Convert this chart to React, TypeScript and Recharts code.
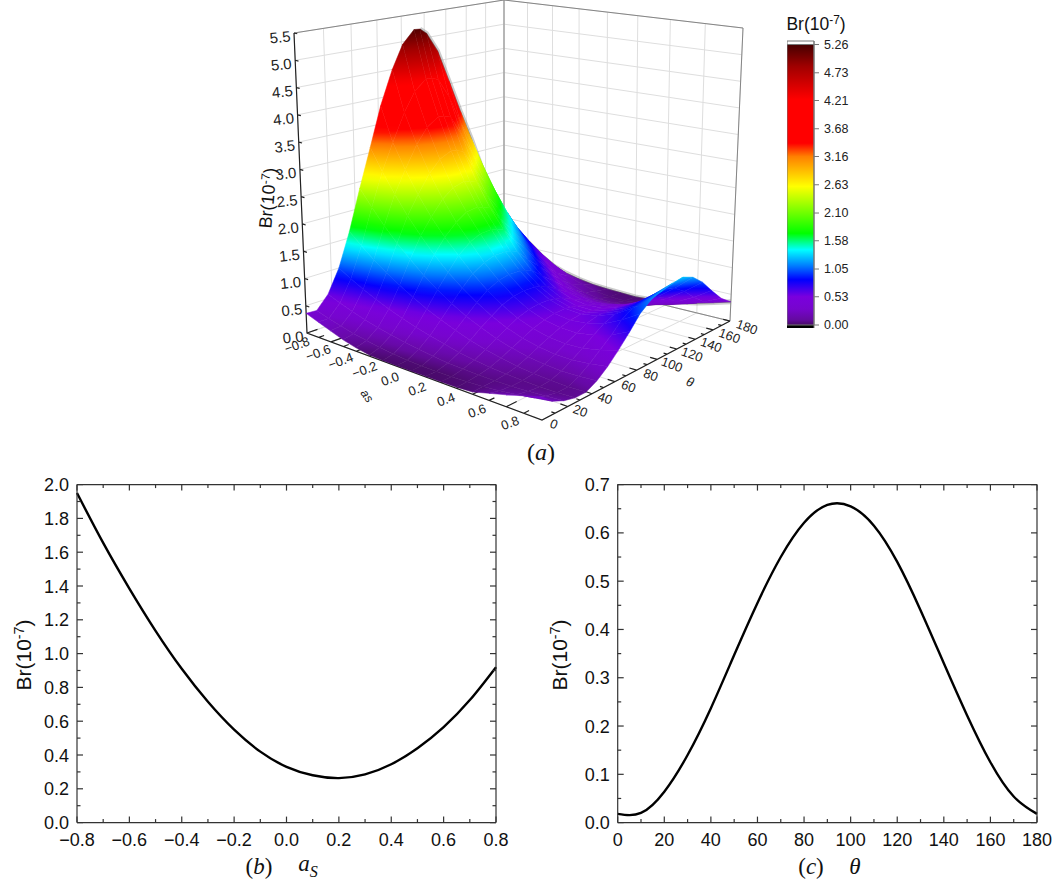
import { BarChart, Bar, ComposedChart, Line, LineChart, ReferenceArea, XAxis, YAxis } from 'recharts'

// surface grid: columns are a_S, rows are theta (in units of 1e-7)
const aColumns = [-0.8, -0.7, -0.6, -0.5, -0.4, -0.3, -0.2, -0.1, 0, 0.1, 0.2, 0.3, 0.4, 0.5, 0.6, 0.7, 0.8]
const thetaRows = [0, 8, 17, 26, 35, 44, 53, 62, 72, 81, 91, 96, 102, 112, 123, 134, 145, 156, 168, 180]
const row00 = [0.36, 0.28, 0.2, 0.12, 0.06, 0.02, 0.01, 0.01, 0.01, 0.01, 0.015, 0.02, 0.04, 0.12, 0.2, 0.29, 0.38]
const row01 = [0.35, 0.28, 0.22, 0.16, 0.12, 0.08, 0.05, 0.03, 0.02, 0.015, 0.02, 0.03, 0.05, 0.08, 0.12, 0.17, 0.22]
const row02 = [0.58, 0.49, 0.41, 0.34, 0.28, 0.225, 0.18, 0.14, 0.105, 0.08, 0.065, 0.057, 0.056, 0.063, 0.077, 0.1, 0.13]
const row03 = [1.0, 0.87, 0.75, 0.64, 0.54, 0.45, 0.37, 0.3, 0.24, 0.18, 0.14, 0.106, 0.082, 0.067, 0.062, 0.066, 0.08]
const row04 = [1.62, 1.42, 1.23, 1.06, 0.9, 0.76, 0.625, 0.51, 0.405, 0.315, 0.24, 0.18, 0.13, 0.1, 0.08, 0.07, 0.08]
const row05 = [2.38, 2.08, 1.8, 1.54, 1.31, 1.09, 0.9, 0.73, 0.58, 0.46, 0.35, 0.27, 0.21, 0.17, 0.15, 0.155, 0.18]
const row06 = [3.1, 2.7, 2.33, 1.99, 1.68, 1.4, 1.15, 0.935, 0.75, 0.59, 0.46, 0.36, 0.3, 0.26, 0.25, 0.28, 0.33]
const row07 = [3.85, 3.2, 2.74, 2.33, 1.97, 1.66, 1.39, 1.125, 0.9, 0.71, 0.56, 0.455, 0.385, 0.36, 0.37, 0.43, 0.52]
const row08 = [4.5, 3.72, 3.16, 2.67, 2.24, 1.87, 1.57, 1.26, 1.0, 0.79, 0.63, 0.52, 0.47, 0.46, 0.51, 0.6, 0.75]
const row09 = [4.95, 4.08, 3.44, 2.88, 2.4, 2.0, 1.66, 1.32, 1.04, 0.82, 0.66, 0.56, 0.52, 0.55, 0.63, 0.78, 0.98]
const row10 = [5.2, 4.28, 3.59, 2.99, 2.46, 2.03, 1.67, 1.32, 1.03, 0.81, 0.65, 0.57, 0.55, 0.6, 0.71, 0.9, 1.13]
const row11 = [5.19, 4.27, 3.57, 2.96, 2.43, 1.99, 1.64, 1.28, 1.0, 0.78, 0.63, 0.55, 0.54, 0.6, 0.72, 0.92, 1.17]
const row12 = [5.08, 4.22, 3.53, 2.92, 2.4, 1.96, 1.6, 1.24, 0.96, 0.74, 0.6, 0.53, 0.525, 0.59, 0.73, 0.94, 1.2]
const row13 = [4.7, 3.83, 3.14, 2.54, 2.06, 1.67, 1.34, 1.03, 0.785, 0.61, 0.5, 0.46, 0.48, 0.575, 0.73, 0.97, 1.25]
const row14 = [4.05, 3.26, 2.68, 2.18, 1.75, 1.39, 1.09, 0.82, 0.61, 0.47, 0.39, 0.38, 0.42, 0.54, 0.71, 0.97, 1.27]
const row15 = [3.4, 2.82, 2.3, 1.845, 1.44, 1.1, 0.82, 0.6, 0.43, 0.33, 0.28, 0.295, 0.365, 0.495, 0.67, 0.9, 1.18]
const row16 = [2.8, 2.3, 1.85, 1.46, 1.11, 0.825, 0.59, 0.405, 0.27, 0.195, 0.17, 0.2, 0.28, 0.4, 0.55, 0.76, 1.0]
const row17 = [2.15, 1.75, 1.39, 1.07, 0.8, 0.57, 0.385, 0.24, 0.145, 0.09, 0.08, 0.11, 0.18, 0.28, 0.4, 0.56, 0.76]
const row18 = [1.55, 1.25, 0.99, 0.755, 0.555, 0.39, 0.25, 0.15, 0.08, 0.04, 0.035, 0.06, 0.11, 0.18, 0.27, 0.38, 0.52]
const row19 = [1.05, 0.78, 0.55, 0.38, 0.25, 0.16, 0.1, 0.06, 0.04, 0.03, 0.02, 0.04, 0.08, 0.13, 0.19, 0.27, 0.36]
const surfaceRows = [row00, row01, row02, row03, row04, row05, row06, row07, row08, row09, row10, row11, row12, row13, row14, row15, row16, row17, row18, row19]

const aTicks = [-0.8, -0.6, -0.4, -0.2, 0, 0.2, 0.4, 0.6, 0.8]
const thetaTicks = [0, 20, 40, 60, 80, 100, 120, 140, 160, 180]
const zTicks = [0, 0.5, 1, 1.5, 2, 2.5, 3, 3.5, 4, 4.5, 5, 5.5]
const barTicks = [0, 0.53, 1.05, 1.58, 2.1, 2.63, 3.16, 3.68, 4.21, 4.73, 5.26]

// colour ramp of the bar: [value, r, g, b]
const ramp = [
  [0, 70, 10, 100], [0.1, 100, 10, 160], [0.3, 118, 5, 205], [0.53, 122, 0, 222], [0.85, 0, 0, 255], [1.1, 0, 120, 255], [1.41, 0, 255, 255],
  [1.72, 0, 255, 0], [2.03, 90, 255, 0], [2.6, 255, 255, 0], [3.16, 255, 128, 0], [3.41, 255, 0, 0],
  [4.23, 255, 0, 0], [4.85, 160, 0, 0], [5.26, 70, 0, 0],
]

// panel b, panel c
const bA = [-0.8, -0.7, -0.6, -0.5, -0.4, -0.3, -0.2, -0.1, 0, 0.1, 0.2, 0.3, 0.4, 0.5, 0.6, 0.7, 0.8]
const bBr = [1.95, 1.655, 1.385, 1.135, 0.91, 0.715, 0.55, 0.42, 0.33, 0.28, 0.263, 0.285, 0.345, 0.44, 0.565, 0.725, 0.92]
const cTheta = [0, 10, 20, 30, 40, 50, 60, 70, 80, 90, 100, 110, 120, 130, 140, 150, 160, 170, 180]
const cBr = [0.018, 0.02, 0.064, 0.14, 0.237, 0.347, 0.455, 0.55, 0.621, 0.658, 0.655, 0.615, 0.54, 0.44, 0.33, 0.222, 0.125, 0.054, 0.018]
const bXTicks = [-0.8, -0.7, -0.6, -0.5, -0.4, -0.3, -0.2, -0.1, 0, 0.1, 0.2, 0.3, 0.4, 0.5, 0.6, 0.7, 0.8]
const bYTicks = [0, 0.1, 0.2, 0.3, 0.4, 0.5, 0.6, 0.7, 0.8, 0.9, 1, 1.1, 1.2, 1.3, 1.4, 1.5, 1.6, 1.7, 1.8, 1.9, 2]
const bXMajor = [-0.8, -0.6, -0.4, -0.2, 0, 0.2, 0.4, 0.6, 0.8]
const bYMajor = [0, 0.2, 0.4, 0.6, 0.8, 1, 1.2, 1.4, 1.6, 1.8, 2]
const cXTicks = [0, 10, 20, 30, 40, 50, 60, 70, 80, 90, 100, 110, 120, 130, 140, 150, 160, 170, 180]
const cYTicks = [0, 0.05, 0.1, 0.15, 0.2, 0.25, 0.3, 0.35, 0.4, 0.45, 0.5, 0.55, 0.6, 0.65, 0.7]
const cXMajor = [0, 20, 40, 60, 80, 100, 120, 140, 160, 180]
const cYMajor = [0, 0.1, 0.2, 0.3, 0.4, 0.5, 0.6, 0.7]

const SANS = '"Liberation Sans", Arial, sans-serif'
const SERIF = '"Liberation Serif", serif'

type P = [number, number]

// box corners on the page: floor and top, order a=-.8/t=0, a=.8/t=0, a=.8/t=180, a=-.8/t=180
const floorBox: P[] = [[307, 333], [542, 420], [730, 321], [504, 266]]
const topBox: P[] = [[294, 33], [544, 88], [743, 28], [504, 0]]

function makeHomography(q: P[]) {
  const [A, B, C, D] = q
  const sx = A[0] - B[0] + C[0] - D[0]
  const sy = A[1] - B[1] + C[1] - D[1]
  const d1x = B[0] - C[0], d1y = B[1] - C[1], d2x = D[0] - C[0], d2y = D[1] - C[1]
  const det = d1x * d2y - d1y * d2x
  const g = (sx * d2y - sy * d2x) / det
  const h = (d1x * sy - d1y * sx) / det
  return (u: number, v: number): P => {
    const w = g * u + h * v + 1
    return [
      ((B[0] - A[0] + g * B[0]) * u + (D[0] - A[0] + h * D[0]) * v + A[0]) / w,
      ((B[1] - A[1] + g * B[1]) * u + (D[1] - A[1] + h * D[1]) * v + A[1]) / w,
    ]
  }
}
const floorAt = makeHomography(floorBox)
const topAt = makeHomography(topBox)

function project(a: number, theta: number, z: number): P {
  const u = (a + 0.8) / 1.6
  const v = theta / 180
  const f = floorAt(u, v)
  const t = topAt(u, v)
  const k = z / 5.5
  return [f[0] + (t[0] - f[0]) * k, f[1] + (t[1] - f[1]) * k]
}

function colorAt(z: number) {
  if (z <= ramp[0][0]) return `rgb(${ramp[0][1]},${ramp[0][2]},${ramp[0][3]})`
  for (let i = 1; i < ramp.length; i++) {
    if (z <= ramp[i][0]) {
      const a = ramp[i - 1]
      const b = ramp[i]
      const k = (z - a[0]) / (b[0] - a[0])
      return `rgb(${Math.round(a[1] + (b[1] - a[1]) * k)},${Math.round(a[2] + (b[2] - a[2]) * k)},${Math.round(a[3] + (b[3] - a[3]) * k)})`
    }
  }
  const l = ramp[ramp.length - 1]
  return `rgb(${l[1]},${l[2]},${l[3]})`
}

// four corners per quad, back to front, so the dots paint in the right order
const quadPoints: { x: number; y: number; z: number }[] = []
for (let r = thetaRows.length - 2; r >= 0; r--) {
  for (let c = 0; c < aColumns.length - 1; c++) {
    const corners: [number, number][] = [[r, c], [r, c + 1], [r + 1, c + 1], [r + 1, c]]
    corners.forEach(([i, j]) => {
      const p = project(aColumns[j], thetaRows[i], surfaceRows[i][j])
      quadPoints.push({ x: p[0], y: p[1], z: surfaceRows[i][j] })
    })
  }
}

function renderQuad(props: any) {
  const { index, points } = props
  if (index % 4 !== 0) return <g key={index} />
  const pts = points.slice(index, index + 4)
  const zs = quadPoints.slice(index, index + 4).map((q) => q.z)
  const poly = pts.map((p: any) => `${p.x},${p.y}`).join(' ')
  const lo = Math.min(...zs)
  const hi = Math.max(...zs)
  const ax = pts[2].x - pts[0].x, ay = pts[2].y - pts[0].y, bx = pts[3].x - pts[1].x, by = pts[3].y - pts[1].y
  const dz1 = zs[2] - zs[0], dz2 = zs[3] - zs[1]
  const det = ax * by - ay * bx
  if (Math.abs(det) < 0.5 || hi - lo < 0.01) {
    const flat = colorAt((lo + hi) / 2)
    return <polygon key={index} points={poly} fill={flat} stroke={flat} strokeWidth={0.5} />
  }
  const gx = (dz1 * by - dz2 * ay) / det
  const gy = (ax * dz2 - bx * dz1) / det
  const g2 = gx * gx + gy * gy
  const cx = (pts[0].x + pts[1].x + pts[2].x + pts[3].x) / 4
  const cy = (pts[0].y + pts[1].y + pts[2].y + pts[3].y) / 4
  const zc = (zs[0] + zs[1] + zs[2] + zs[3]) / 4
  const n = Math.max(2, Math.ceil((hi - lo) / 0.1) + 1)
  const stops = []
  for (let i = 0; i < n; i++) {
    const k = i / (n - 1)
    stops.push(<stop key={i} offset={k} stopColor={colorAt(lo + (hi - lo) * k)} />)
  }
  const id = `q${index}`
  return (
    <g key={index}>
      <defs>
        <linearGradient
          id={id}
          gradientUnits="userSpaceOnUse"
          x1={cx + (gx * (lo - zc)) / g2}
          y1={cy + (gy * (lo - zc)) / g2}
          x2={cx + (gx * (hi - zc)) / g2}
          y2={cy + (gy * (hi - zc)) / g2}
        >
          {stops}
        </linearGradient>
      </defs>
      <polygon points={poly} fill={`url(#${id})`} stroke={`url(#${id})`} strokeWidth={0.5} />
    </g>
  )
}

// polylines with gaps between them
function segments(list: P[][]) {
  const out: { x: number; y: number | null }[] = []
  list.forEach((seg) => {
    seg.forEach((p) => out.push({ x: p[0], y: p[1] }))
    out.push({ x: seg[seg.length - 1][0], y: null })
  })
  return out
}

const lightGrid: P[][] = []
thetaTicks.forEach((t) => {
  lightGrid.push([project(-0.8, t, 0), project(-0.8, t, 5.5)])
  lightGrid.push([project(-0.8, t, 0), project(0.8, t, 0)])
})
aTicks.forEach((a) => {
  lightGrid.push([project(a, 180, 0), project(a, 180, 5.5)])
  lightGrid.push([project(a, 0, 0), project(a, 180, 0)])
})
zTicks.forEach((z) => {
  lightGrid.push([project(-0.8, 0, z), project(-0.8, 180, z), project(0.8, 180, z)])
})

const greyFrame: P[][] = [
  [project(-0.8, 0, 5.5), project(-0.8, 180, 5.5), project(0.8, 180, 5.5), project(0.8, 180, 0), project(-0.8, 180, 0)],
  [project(-0.8, 180, 0), project(-0.8, 180, 5.5)],
]

const blackAxes: P[][] = [
  [project(-0.8, 0, 5.5), project(-0.8, 0, 0), project(0.8, 0, 0), project(0.8, 180, 0)],
]
aTicks.forEach((a) => blackAxes.push([project(a, 0, 0), project(a, 8, 0)]))
for (let i = 0; i < aTicks.length - 1; i++) {
  const mid = (aTicks[i] + aTicks[i + 1]) / 2
  blackAxes.push([project(mid, 0, 0), project(mid, 4, 0)])
}
thetaTicks.forEach((t) => blackAxes.push([project(0.8, t, 0), project(0.76, t, 0)]))
for (let i = 0; i < thetaTicks.length - 1; i++) {
  const mid = (thetaTicks[i] + thetaTicks[i + 1]) / 2
  blackAxes.push([project(0.8, mid, 0), project(0.78, mid, 0)])
}
zTicks.forEach((z) => blackAxes.push([project(-0.8, 0, z), project(-0.77, 0, z)]))

// mesh lines that pile up grey where the surface is seen edge on
const greyEdge: P[][] = [
  thetaRows.map((t, i) => project(-0.8, t, surfaceRows[i][0])).slice(11),
  aColumns.map((a, j) => project(a, 180, row19[j])),
]
const greyFan: P[][] = []
for (let r = 14; r < thetaRows.length; r++) {
  greyFan.push(aColumns.slice(3, 14).map((a, j) => project(a, thetaRows[r], surfaceRows[r][j + 3])))
}
for (let c = 9; c < 15; c++) {
  greyFan.push(thetaRows.slice(11).map((t, i) => project(aColumns[c], t, surfaceRows[i + 11][c])))
}

type Lab = { x: number; y: number; text: string; rot: number; size: number; style?: string }
const labels: Lab[] = []
aTicks.forEach((a) => {
  const p = project(a, 0, 0)
  const k = (a + 0.8) / 1.6
  labels.push({
    x: p[0] - 10 - 22 * k,
    y: p[1] + 12 - 9 * k,
    text: a === 0 ? '0.0' : a < 0 ? `\u2212${Math.abs(a).toFixed(1)}` : a.toFixed(1),
    rot: -20,
    size: 13,
  })
})
thetaTicks.forEach((t) => {
  const p = project(0.8, t, 0)
  labels.push({ x: p[0] + 12 + (5 * t) / 180, y: p[1] + 4 + (2 * t) / 180, text: String(t), rot: 20, size: 13 })
})
zTicks.forEach((z) => {
  const p = project(-0.8, 0, z)
  labels.push({ x: p[0] - 14, y: p[1] + 4, text: z.toFixed(1), rot: -6, size: 15 })
})
labels.push({ x: 367, y: 396, text: 'as', rot: 55, size: 12, style: 'italic' })
labels.push({ x: 690, y: 382, text: '\u03b8', rot: 20, size: 13, style: 'italic' })

function renderLabel(props: any) {
  const { cx, cy, index } = props
  const l = labels[index]
  return (
    <text
      key={index}
      x={cx}
      y={cy}
      textAnchor="middle"
      dominantBaseline="central"
      fontFamily={SANS}
      fontSize={l.size}
      fontStyle={l.style}
      fill="#222"
      transform={`rotate(${l.rot} ${cx} ${cy})`}
    >
      {l.text}
    </text>
  )
}

const noDot = false

function Note({ x, y, size, font = SANS, rotate = 0, children }: any) {
  return (
    <div
      style={{
        position: 'absolute',
        left: x,
        top: y,
        fontSize: size,
        fontFamily: font,
        lineHeight: 1,
        whiteSpace: 'nowrap',
        color: '#111',
        transform: `translate(-50%, -50%) rotate(${rotate}deg)`,
      }}
    >
      {children}
    </div>
  )
}

const Sup = () => (
  <span style={{ fontSize: '0.68em', position: 'relative', top: '-0.5em' }}>-7</span>
)

const fmtB = (v: number) => (v < 0 ? `\u2212${Math.abs(v).toFixed(1)}` : v.toFixed(1))
const AXIS = '#333'

function xTick(major: number[], fmt: (v: number) => string, dir: number, withText: boolean) {
  return (props: any) => {
    const { x, y, payload } = props
    const isMajor = major.includes(payload.value)
    return (
      <g>
        <line x1={x} x2={x} y1={y} y2={y + dir * (isMajor ? 6 : 3.5)} stroke={AXIS} strokeWidth={1.2} />
        {withText && isMajor && (
          <text x={x} y={y + 23} textAnchor="middle" fontFamily={SANS} fontSize={18} fill="#111">
            {fmt(payload.value)}
          </text>
        )}
      </g>
    )
  }
}

function yTick(major: number[], dir: number, withText: boolean) {
  return (props: any) => {
    const { x, y, payload } = props
    const isMajor = major.includes(payload.value)
    return (
      <g>
        <line x1={x} x2={x + dir * (isMajor ? 6 : 3.5)} y1={y} y2={y} stroke={AXIS} strokeWidth={1.2} />
        {withText && isMajor && (
          <text x={x - 8} y={y + 6.5} textAnchor="end" fontFamily={SANS} fontSize={18} fill="#111">
            {payload.value.toFixed(1)}
          </text>
        )}
      </g>
    )
  }
}

function Panel({ left, plotLeft, plotRight, xs, ys, xDomain, yDomain, xTicks, yTicks, xMajor, yMajor, fmt }: any) {
  const data = xs.map((x: number, i: number) => ({ x, y: ys[i] }))
  const width = plotRight - left + 30
  const axisLine = { stroke: AXIS, strokeWidth: 1.2 }
  const common = { tickSize: 0, tickMargin: 0, tickLine: false, interval: 0 as const, axisLine, type: 'number' as const, allowDuplicatedCategory: false }
  return (
    <div style={{ position: 'absolute', left, top: 470 }}>
      <LineChart
        width={width}
        height={414}
        data={data}
        margin={{ left: plotLeft - left - 1, right: 29, top: 13.6, bottom: 60.4 }}
      >
        <XAxis {...common} dataKey="x" domain={xDomain} ticks={xTicks} height={1} tick={xTick(xMajor, fmt, -1, true)} />
        <XAxis {...common} xAxisId="top" dataKey="x" orientation="top" domain={xDomain} ticks={xTicks} height={1} tick={xTick(xMajor, fmt, 1, false)} />
        <YAxis {...common} domain={yDomain} ticks={yTicks} width={1} tick={yTick(yMajor, 1, true)} />
        <YAxis {...common} yAxisId="right" orientation="right" domain={yDomain} ticks={yTicks} width={1} tick={yTick(yMajor, -1, false)} />
        <Line xAxisId="top" yAxisId="right" dataKey="y" stroke="none" dot={false} activeDot={false} isAnimationActive={false} />
        <Line type="natural" dataKey="y" stroke="#000" strokeWidth={2.4} dot={false} isAnimationActive={false} />
      </LineChart>
    </div>
  )
}

export default function App() {
  return (
    <div style={{ position: 'absolute', left: 0, top: 0, width: 1059, height: 884, background: '#fff', overflow: 'hidden' }}>
      <div style={{ position: 'absolute', left: 0, top: 0 }}>
        <ComposedChart width={1059} height={470} margin={{ left: 0, right: 0, top: 0, bottom: 0 }}>
          <XAxis type="number" dataKey="x" domain={[0, 1059]} hide />
          <YAxis type="number" domain={[0, 470]} reversed hide />
          <Line data={segments(lightGrid)} dataKey="y" stroke="#dedede" strokeWidth={1} dot={noDot} isAnimationActive={false} />
          <Line data={segments(greyFrame)} dataKey="y" stroke="#858585" strokeWidth={1} dot={noDot} isAnimationActive={false} />
          <Line data={segments(blackAxes)} dataKey="y" stroke="#222" strokeWidth={1.2} dot={noDot} isAnimationActive={false} />
          <Line data={quadPoints} dataKey="y" stroke="none" dot={renderQuad} activeDot={false} isAnimationActive={false} />
          <Line data={segments(greyFan)} dataKey="y" stroke="#808080" strokeOpacity={0.7} strokeWidth={1.4} dot={noDot} isAnimationActive={false} />
          <Line data={segments(greyEdge)} dataKey="y" stroke="#808080" strokeOpacity={0.4} strokeWidth={5} dot={noDot} isAnimationActive={false} />
          <Line data={segments(greyEdge)} dataKey="y" stroke="#808080" strokeWidth={1.4} dot={noDot} isAnimationActive={false} />
          <Line data={labels} dataKey="y" stroke="none" dot={renderLabel} activeDot={false} isAnimationActive={false} />
        </ComposedChart>
      </div>

      <div style={{ position: 'absolute', left: 787, top: 31 }}>
        <BarChart width={87} height={307} data={[{ name: 'Br', range: [0, 5.26] }]} margin={{ left: 0, right: 0, top: 10, bottom: 10 }} barCategoryGap={0}>
          <defs>
            <linearGradient id="barRamp" x1="0" y1="1" x2="0" y2="0">
              {ramp.map((s) => (
                <stop key={s[0]} offset={s[0] / 5.26} stopColor={`rgb(${s[1]},${s[2]},${s[3]})`} />
              ))}
            </linearGradient>
          </defs>
          <XAxis dataKey="name" hide />
          <YAxis
            orientation="right"
            type="number"
            domain={[-0.056, 5.326]}
            ticks={barTicks}
            interval={0}
            width={60}
            tickSize={5}
            tickMargin={5}
            allowDataOverflow
            tickFormatter={(v: number) => v.toFixed(2)}
            tick={{ fontSize: 12.5, fontFamily: SANS, fill: '#222' }}
            tickLine={{ stroke: '#777' }}
            axisLine={{ stroke: '#777' }}
          />
          <ReferenceArea y1={-0.056} y2={0} fill="#000" fillOpacity={1} stroke="none" />
          <ReferenceArea y1={5.26} y2={5.326} fill="#fff" fillOpacity={1} stroke="#777" />
          <Bar dataKey="range" fill="url(#barRamp)" stroke="#777" isAnimationActive={false} />
        </BarChart>
      </div>

      <Note x={816} y={25} size={17.5}>Br(10<Sup />)</Note>
      <Note x={268} y={198} size={18} rotate={-85}>Br(10<Sup />)</Note>
      <Note x={541} y={452} size={24} font={SERIF}>(<i>a</i>)</Note>

      <Panel
        left={0}
        plotLeft={77}
        plotRight={496}
        xs={bA}
        ys={bBr}
        xDomain={[-0.8, 0.8]}
        yDomain={[0, 2]}
        xTicks={bXTicks}
        yTicks={bYTicks}
        xMajor={bXMajor}
        yMajor={bYMajor}
        fmt={fmtB}
      />
      <Panel
        left={530}
        plotLeft={617.7}
        plotRight={1037}
        xs={cTheta}
        ys={cBr}
        xDomain={[0, 180]}
        yDomain={[0, 0.7]}
        xTicks={cXTicks}
        yTicks={cYTicks}
        xMajor={cXMajor}
        yMajor={cYMajor}
        fmt={(v: number) => String(v)}
      />

      <Note x={23} y={655} size={21} rotate={-90}>Br(10<Sup />)</Note>
      <Note x={559} y={655} size={21} rotate={-90}>Br(10<Sup />)</Note>
      <Note x={259} y={866} size={23} font={SERIF}>(<i>b</i>)</Note>
      <Note x={308} y={866} size={23} font={SERIF}><i>a</i><sub style={{ fontSize: '0.7em' }}><i>S</i></sub></Note>
      <Note x={811} y={866} size={23} font={SERIF}>(<i>c</i>)</Note>
      <Note x={855} y={866} size={23} font={SERIF}><i>θ</i></Note>
    </div>
  )
}
